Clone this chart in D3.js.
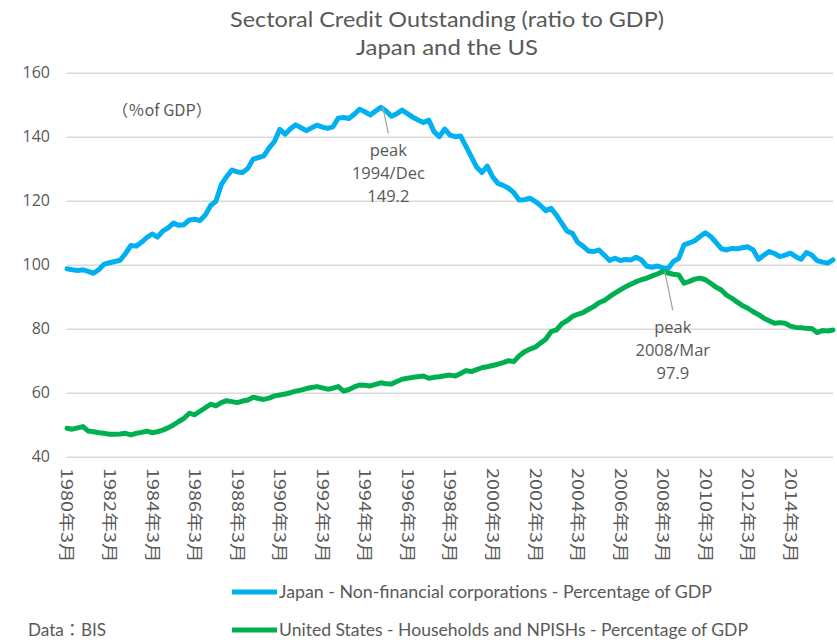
<!DOCTYPE html>
<html>
<head>
<meta charset="utf-8">
<script src="https://cdn.jsdelivr.net/npm/d3@7"></script>
<style>
  body { margin: 0; background: #fff; }
  svg { display: block; }
</style>
</head>
<body>
<svg width="837" height="642"></svg>
<script>
// Quarterly data, 1980 Q1 (March) to 2016 Q1, % of GDP.
const japanNFC = [
  98.7, 98.4, 98.2, 98.4,   97.9, 97.3, 98.5, 100.2,  100.6, 101.0, 101.4, 103.5,
  106.0, 105.8, 107.0, 108.5, 109.6, 108.6, 110.5, 111.5, 113.0, 112.3, 112.5, 114.0,
  114.2, 113.8, 115.5, 118.5, 119.8, 125.0, 127.5, 129.6, 129.0, 128.8, 130.1, 133.0,
  133.5, 134.0, 136.5, 138.5, 142.3, 140.8, 142.5, 143.7, 142.8, 141.9, 142.8, 143.6,
  143.0, 142.6, 143.1, 145.8, 146.0, 145.7, 147.0, 148.6, 147.8, 146.8, 148.0, 149.2,
  148.0, 146.4, 147.2, 148.3, 147.2, 146.1, 145.2, 144.4, 145.2, 141.6, 140.0, 142.4,
  140.5, 140.0, 140.2, 137.0, 133.8, 130.5, 128.8, 130.8, 127.5, 125.4, 124.8, 123.9,
  122.5, 120.2, 120.3, 120.8, 119.8, 118.5, 116.9, 117.6, 115.5, 113.0, 110.5, 109.8,
  107.0, 105.8, 104.3, 104.1, 104.6, 103.0, 101.3, 102.0, 101.3, 101.6, 101.5, 102.3,
  101.5, 99.5, 99.2, 99.6,  99.0, 98.8, 101.0, 102.0,  106.2, 106.8, 107.5, 108.8,
  110.0, 108.8, 107.0, 105.0, 104.6, 105.1, 105.0, 105.3, 105.6, 104.6, 101.7, 103.0,
  104.1, 103.5, 102.5, 103.0, 103.6, 102.5, 101.7, 103.8, 103.0, 101.3, 100.8, 100.5,
  101.5
];

const usHouseholds = [
  48.9, 48.6, 49.0, 49.4, 48.0, 47.8, 47.5, 47.3, 47.0, 47.0, 47.1, 47.3,
  46.8, 47.3, 47.6, 48.0, 47.5, 47.8, 48.3, 49.0, 49.9, 51.0, 52.0, 53.6,
  53.1, 54.2, 55.3, 56.4, 55.9, 56.9, 57.5, 57.2, 56.9, 57.4, 57.7, 58.6,
  58.2, 57.9, 58.3, 59.0, 59.3, 59.6, 60.0, 60.5, 60.8, 61.3, 61.6, 61.9,
  61.5, 61.1, 61.4, 61.9, 60.5, 61.0, 61.8, 62.4, 62.3, 62.1, 62.6, 63.1,
  62.8, 62.7, 63.5, 64.2, 64.5, 64.8, 65.0, 65.2, 64.5, 64.8, 65.0, 65.3,
  65.5, 65.2, 66.0, 66.9, 66.6, 67.2, 67.8, 68.1, 68.5, 68.9, 69.4, 70.0,
  69.7, 71.5, 72.8, 73.6, 74.2, 75.5, 76.7, 79.1, 79.6, 81.5, 82.5, 83.8,
  84.5, 85.0, 86.0, 86.9, 88.1, 88.8, 90.0, 91.1, 92.1, 93.1, 93.9, 94.7,
  95.3, 95.8, 96.5, 97.1, 97.9, 97.4, 97.0, 96.8, 94.2, 94.8, 95.5, 95.8,
  95.3, 94.2, 93.0, 92.1, 90.5, 89.5, 88.3, 87.2, 86.4, 85.3, 84.4, 83.3,
  82.5, 81.7, 81.9, 81.7, 80.8, 80.4, 80.3, 80.1, 80.1, 78.8, 79.4, 79.3,
  79.6
];

const yTicks = [40, 60, 80, 100, 120, 140, 160];

// Category labels, shown every 8 quarters (2 years).
const xTickLabels = [
  "1980年3月", "1982年3月", "1984年3月", "1986年3月", "1988年3月", "1990年3月",
  "1992年3月", "1994年3月", "1996年3月", "1998年3月", "2000年3月", "2002年3月",
  "2004年3月", "2006年3月", "2008年3月", "2010年3月", "2012年3月", "2014年3月"
];

const seriesNames = [
  "Japan - Non-financial corporations - Percentage of GDP",
  "United States - Households and NPISHs - Percentage of GDP"
];

// Peak annotations: which series, which quarter, what text.
const peakSeries = [0, 1];
const peakIndex = [59, 112];
const peakText = [["peak", "1994/Dec", "149.2"], ["peak", "2008/Mar", "97.9"]];

const colors = ["#00b0f0", "#00b050"];
const textColor = "#595959";

const svg = d3.select("svg");

// Scales
const x = d3.scaleLinear()
  .domain([0, japanNFC.length - 1])
  .range([67, 833]);

const y = d3.scaleLinear()
  .domain([40, 160])
  .range([456.7, 72.7]);

// Title
const title = svg.append("g")
  .attr("font-family", "Lato, 'Open Sans', sans-serif")
  .attr("font-size", 21)
  .attr("fill", textColor)
  .attr("text-anchor", "middle");

title.append("text")
  .attr("x", 447).attr("y", 27)
  .attr("textLength", 434).attr("lengthAdjust", "spacingAndGlyphs")
  .text("Sectoral Credit Outstanding (ratio to GDP)");

title.append("text")
  .attr("x", 447).attr("y", 55)
  .attr("textLength", 182).attr("lengthAdjust", "spacingAndGlyphs")
  .text("Japan and the US");

// Gridlines + y labels
const yAxis = svg.append("g")
  .attr("transform", `translate(${x.range()[0]},0)`)
  .call(d3.axisLeft(y)
    .tickValues(yTicks)
    .tickSize(-(x.range()[1] - x.range()[0]))
    .tickPadding(17));

yAxis.select(".domain").remove();
yAxis.selectAll(".tick line")
  .attr("stroke", "#d9d9d9")
  .attr("stroke-width", 1.5);
yAxis.selectAll(".tick text")
  .attr("font-family", "'Open Sans', sans-serif")
  .attr("font-size", 16)
  .attr("fill", textColor);

// Unit label
svg.append("text")
  .attr("x", 112).attr("y", 116)
  .attr("font-family", "'Noto Sans CJK JP', 'Open Sans', sans-serif")
  .attr("font-size", 16)
  .attr("fill", textColor)
  .attr("textLength", 100).attr("lengthAdjust", "spacingAndGlyphs")
  .text("（％of GDP）");

// X labels, rotated
svg.append("g")
  .selectAll("text")
  .data(xTickLabels)
  .enter().append("text")
  .attr("transform", (d, i) => `translate(${x(i * 8)},468) rotate(90)`)
  .attr("dy", "0.35em")
  .attr("font-family", "'Noto Sans CJK JP', sans-serif")
  .attr("font-size", 16)
  .attr("fill", textColor)
  .attr("textLength", 95).attr("lengthAdjust", "spacingAndGlyphs")
  .text(d => d);

// Lines
const line = d3.line()
  .x((d, i) => x(i))
  .y(d => y(d));

[japanNFC, usHouseholds].forEach((values, k) => {
  svg.append("path")
    .datum(values)
    .attr("fill", "none")
    .attr("stroke", colors[k])
    .attr("stroke-width", 5)
    .attr("stroke-linejoin", "round")
    .attr("stroke-linecap", "round")
    .attr("d", line);
});

// Peak annotations
const allSeries = [japanNFC, usHouseholds];
peakSeries.forEach((s, k) => {
  const px = x(peakIndex[k]);
  const py = y(allSeries[s][peakIndex[k]]);
  const tx = px + (k === 0 ? 7.5 : 10);
  const lineEnd = k === 0 ? py + 26 : py + 39;

  svg.append("line")
    .attr("x1", px + 2).attr("y1", py)
    .attr("x2", tx).attr("y2", lineEnd)
    .attr("stroke", "#a6a6a6")
    .attr("stroke-width", 1.3);

  svg.append("g")
    .selectAll("text")
    .data(peakText[k])
    .enter().append("text")
    .attr("x", tx)
    .attr("y", (d, j) => lineEnd + 23 + j * 23)
    .attr("text-anchor", "middle")
    .attr("font-family", "'Open Sans', sans-serif")
    .attr("font-size", 16.5)
    .attr("fill", textColor)
    .text(d => d);
});

// Legend
const legend = svg.append("g")
  .selectAll("g")
  .data(seriesNames)
  .enter().append("g")
  .attr("transform", (d, i) => `translate(232,${592 + i * 38})`);

legend.append("line")
  .attr("x1", 0).attr("x2", 45)
  .attr("stroke", (d, i) => colors[i])
  .attr("stroke-width", 5);

legend.append("text")
  .attr("x", 47)
  .attr("dy", "0.35em")
  .attr("font-family", "Lato, 'Open Sans', sans-serif")
  .attr("font-size", 17)
  .attr("fill", textColor)
  .attr("textLength", (d, i) => i === 0 ? 433 : 469)
  .attr("lengthAdjust", "spacingAndGlyphs")
  .text(d => d);

// Source note
svg.append("text")
  .attr("x", 28).attr("y", 636)
  .attr("font-family", "Lato, 'Noto Sans CJK JP', sans-serif")
  .attr("font-size", 17)
  .attr("fill", textColor)
  .attr("textLength", 78).attr("lengthAdjust", "spacingAndGlyphs")
  .text("Data：BIS");
</script>
</body>
</html>
